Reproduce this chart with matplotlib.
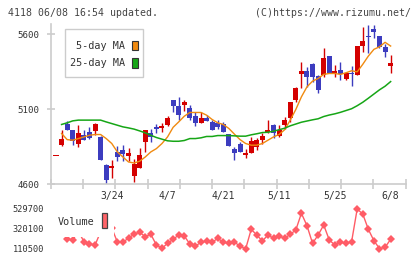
import numpy as np
import matplotlib
matplotlib.use("Agg")
import matplotlib.pyplot as plt
from matplotlib.patches import Rectangle

W, H, DPI = 420, 259, 100

# --- data (61 trading days, 4118) ---
opens = [4790, 4858, 5003, 4959, 4865, 4925, 4950, 4954, 4914, 4725,
         4707, 4814, 4830, 4787, 4651, 4707, 4881, 4943, 4977, 4974,
         4992, 5159, 5121, 5126, 5110, 5052, 5008, 5039, 5012, 5008,
         4999, 4932, 4832, 4865, 4796, 4807, 4847, 4892, 4948, 4992,
         4921, 4992, 5037, 5159, 5333, 5353, 5397, 5320, 5326, 5453,
         5342, 5360, 5299, 5342, 5326, 5522, 5589, 5631, 5587, 5511,
         5386]
closes = [4790, 4899, 4963, 4885, 4941, 4896, 4910, 4999, 4763, 4629,
          4718, 4780, 4798, 4807, 4732, 4792, 4959, 4914, 4968, 4988,
          5041, 5121, 5059, 5146, 5037, 5008, 5039, 5021, 4959, 4979,
          4948, 4854, 4807, 4814, 4807, 4885, 4896, 4919, 4963, 4941,
          4963, 5026, 5148, 5237, 5353, 5315, 5315, 5230, 5437, 5337,
          5355, 5331, 5342, 5331, 5520, 5553, 5578, 5611, 5511, 5482,
          5404]
highs = [4790, 4959, 5021, 4959, 4992, 4959, 4977, 5010, 4920, 4736,
         4758, 4852, 4859, 4843, 4770, 4843, 4959, 4966, 5003, 5010,
         5052, 5159, 5177, 5159, 5126, 5077, 5077, 5059, 5030, 5030,
         5014, 4932, 4848, 4880, 4836, 4914, 4910, 4943, 5026, 5000,
         4992, 5048, 5148, 5248, 5415, 5382, 5404, 5326, 5504, 5453,
         5393, 5411, 5348, 5386, 5520, 5649, 5660, 5660, 5587, 5533,
         5460]
lows = [4790, 4855, 4958, 4859, 4847, 4892, 4899, 4925, 4763, 4603,
        4643, 4754, 4752, 4752, 4613, 4707, 4814, 4881, 4943, 4948,
        4990, 5081, 5026, 5088, 5026, 4988, 5008, 5021, 4959, 4970,
        4948, 4854, 4758, 4814, 4774, 4807, 4825, 4865, 4937, 4910,
        4914, 4970, 5014, 5148, 5237, 5248, 5277, 5208, 5315, 5337,
        5315, 5293, 5293, 5255, 5326, 5482, 5471, 5571, 5504, 5448,
        5337]
ma5 = [np.nan, 4937, 4896, 4892, 4903, 4914, 4925, 4930, 4930, 4903,
       4870, 4814, 4780, 4747, 4740, 4752, 4780, 4814, 4836, 4870,
       4914, 4978, 5014, 5052, 5077, 5077, 5077, 5059, 5030, 5008,
       4997, 4970, 4932, 4896, 4870, 4859, 4859, 4870, 4892, 4914,
       4930, 4962, 5026, 5097, 5181, 5248, 5286, 5304, 5331, 5337,
       5337, 5331, 5342, 5355, 5348, 5398, 5453, 5498, 5515, 5545,
       5520]
ma25 = [np.nan, 4997, 5008, 5021, 5026, 5026, 5026, 5026, 5026, 5014,
        5003, 4992, 4981, 4974, 4966, 4954, 4941, 4925, 4910, 4899,
        4888, 4885, 4885, 4890, 4903, 4903, 4908, 4917, 4917, 4923,
        4923, 4923, 4921, 4919, 4919, 4928, 4935, 4943, 4945, 4952,
        4962, 4972, 4988, 5000, 5012, 5020, 5028, 5035, 5050, 5060,
        5068, 5078, 5090, 5102, 5122, 5145, 5172, 5200, 5228, 5252,
        5283]
volume = [350000, 300000, 215300, 204800, 300000, 187000, 162900, 152400, 290000, 420000,
          330000, 183900, 183900, 222600, 267700, 285500, 239400, 264600, 152400, 117800,
          170200, 212200, 257200, 246700, 162900, 141900, 180700, 194300, 180700, 222600,
          180700, 170200, 180700, 141900, 110500, 317000, 257200, 194300, 257200, 222600,
          246700, 222600, 264600, 309600, 484600, 354700, 170200, 257200, 362000, 204800,
          152400, 180700, 170200, 187000, 529700, 477300, 317000, 197500, 115000, 128300,
          212200]
date_pos = [10, 20, 30, 40, 50, 60]
date_labels = ["3/24", "4/7", "4/21", "5/11", "5/25", "6/8"]
price_ticks = [4600, 5100, 5600]
vol_ticks = [110500, 320100, 529700]

RED, BLUE = "#d40000", "#3c3cbf"
ORANGE, GREEN = "#f08a10", "#16a616"
VOLC = "#ff5c66"
GRAY = "#cccccc"
TXT = "#333333"
MONO = "DejaVu Sans Mono"


def fx(x):
    return x / W


def fy(y):
    return 1 - y / H


fig = plt.figure(figsize=(W / DPI, H / DPI), dpi=DPI)

# main price panel
left, right, top, bottom = 50.7, 405.7, 24, 184.3
ax = fig.add_axes([fx(left), fy(bottom), fx(right) - fx(left), fy(top) - fy(bottom)])
xlim = (-0.95, 62.7)
ax.set_xlim(*xlim)
ax.set_ylim(4598, 5667)

x = np.arange(len(opens))
o = np.array(opens)
c = np.array(closes)
up = c >= o
colors = np.where(up, RED, BLUE)
ax.vlines(x, lows, highs, colors=colors, linewidth=1.0, zorder=2)
body_h = np.maximum(np.abs(c - o), 7)
body_b = np.minimum(o, c) - np.where(np.abs(c - o) < 7, 3.5, 0)
ax.bar(x, body_h, bottom=body_b, width=0.9, color=colors, linewidth=0, zorder=3)
ax.plot(x, ma5, color=ORANGE, lw=1.0, zorder=4)
ax.plot(x, ma25, color=GREEN, lw=1.1, zorder=4)

for s in ["top", "right"]:
    ax.spines[s].set_visible(False)
for s in ["left", "bottom"]:
    ax.spines[s].set_color(GRAY)
    ax.spines[s].set_linewidth(1.2)
ax.set_xticks(np.linspace(xlim[0], xlim[1], 12))
ax.set_xticklabels([])
ax.tick_params(axis="x", direction="inout", length=7, color=GRAY, width=1.2)
ax.set_yticks(price_ticks)
ax.set_yticklabels([str(v) for v in price_ticks], family=MONO, fontsize=6.6, color=TXT)
ax.tick_params(axis="y", direction="inout", length=6, color=GRAY, width=1.2, pad=5)

# MA legend box
fig.add_artist(Rectangle((fx(65), fy(77.3)), fx(143.3) - fx(65), fy(29.3) - fy(77.3),
                         transform=fig.transFigure, facecolor="white", edgecolor=GRAY, lw=1.0))
for label, yy, col in [("5-day MA", 46, ORANGE), ("25-day MA", 63, GREEN)]:
    fig.text(fx(125.5), fy(yy), label, ha="right", va="center", family=MONO, fontsize=7.3, color=TXT)
    fig.add_artist(Rectangle((fx(131.5), fy(yy + 4.5)), fx(6), fy(0) - fy(9),
                             transform=fig.transFigure, facecolor=col, edgecolor="#333333", lw=0.8))

# volume panel
vtop, vbot = 203, 256
axv = fig.add_axes([fx(left), fy(vbot), fx(right) - fx(left), fy(vtop) - fy(vbot)])
axv.set_xlim(*xlim)
per_px = (529700 - 110500) / 40.0
axv.set_ylim(110500 - (vbot - 249) * per_px, 529700 + (209 - vtop) * per_px)
axv.plot(x, volume, color=VOLC, lw=1.0, marker="D", markersize=4.2, markeredgewidth=0, zorder=2)
for s in axv.spines.values():
    s.set_visible(False)
axv.xaxis.tick_top()
axv.set_xticks(date_pos)
axv.set_xticklabels(date_labels, family=MONO, fontsize=7, color=TXT)
axv.tick_params(axis="x", length=0, pad=1.5)
axv.set_yticks(vol_ticks)
axv.set_yticklabels([str(v) for v in vol_ticks], family=MONO, fontsize=6.2, color=TXT)
axv.tick_params(axis="y", length=0, pad=4.6)

# white box behind the volume legend hides the first points
fig.add_artist(Rectangle((fx(52), fy(236.5)), fx(114) - fx(52), fy(203) - fy(236.5),
                         transform=fig.transFigure, facecolor="white", edgecolor="none", zorder=5))
fig.text(fx(58), fy(222), "Volume", ha="left", va="center", family=MONO, fontsize=7.3,
         color=TXT, zorder=6)
fig.add_artist(Rectangle((fx(101.5), fy(228.3)), fx(6), fy(0) - fy(15.5),
                         transform=fig.transFigure, facecolor="#ff6468", edgecolor="#444444",
                         lw=0.9, zorder=6))

# header
fig.text(fx(8), fy(13), "4118 06/08 16:54 updated.", ha="left", va="center",
         family=MONO, fontsize=7.1, color="#444444")
fig.text(fx(411), fy(13), "(C)https://www.rizumu.net/", ha="right", va="center",
         family=MONO, fontsize=7.1, color="#444444")

fig.savefig("out.png", dpi=DPI)
